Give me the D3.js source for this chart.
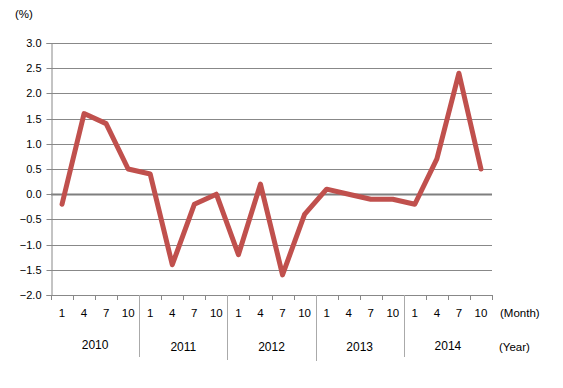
<!DOCTYPE html>
<html><head><meta charset="utf-8">
<script src="https://cdn.jsdelivr.net/npm/d3@7"></script>
<style>body{margin:0;background:#fff}svg{display:block}text{font-family:"Liberation Sans",Arial,sans-serif;font-size:11px;fill:#000}</style>
</head><body>
<script>
const years = ["2010","2011","2012","2013","2014"];
const months = ["1","4","7","10"];
const values = [-0.2,1.6,1.4,0.5, 0.4,-1.4,-0.2,0.0, -1.2,0.2,-1.6,-0.4, 0.1,0.0,-0.1,-0.1, -0.2,0.7,2.4,0.5];
const yTicks = [3.0,2.5,2.0,1.5,1.0,0.5,0.0,-0.5,-1.0,-1.5,-2.0];

const W=563,H=388, L=51, R=492, T=43, B=295;
const svg=d3.select("body").append("svg").attr("width",W).attr("height",H);
const cats = [];
years.forEach(y=>months.forEach(m=>cats.push(y+"-"+m)));
const x=d3.scaleBand().domain(cats).range([L,R]);
const y=d3.scaleLinear().domain([-2,3]).range([B,T]);

// gridlines
svg.append("g").selectAll("line").data(yTicks).join("line")
 .attr("x1",L).attr("x2",R).attr("y1",d=>Math.round(y(d))+0.5).attr("y2",d=>Math.round(y(d))+0.5)
 .attr("stroke",d=>d===0?"#7f7f7f":"#888").attr("stroke-width",d=>d===0?2:1);
// y axis
const ya=svg.append("g").attr("transform",`translate(${L+0.5},0)`)
 .call(d3.axisLeft(y).tickValues(yTicks).tickFormat(d3.format(".1f")).tickSize(5).tickPadding(5));
ya.select(".domain").attr("stroke","#888");
ya.selectAll(".tick line").attr("stroke","#888");
ya.selectAll("text").attr("font-size",11.5).attr("font-family","Liberation Sans, Arial, sans-serif").attr("fill","#000");
ya.selectAll(".tick").attr("transform",d=>`translate(0,${Math.round(y(d))+0.5})`);

// x axis line
svg.append("line").attr("x1",L).attr("x2",R).attr("y1",B+0.5).attr("y2",B+0.5).attr("stroke","#888");
// x ticks at band boundaries
const bounds=cats.map(c=>x(c)).concat([R]);
svg.append("g").selectAll("line").data(bounds).join("line")
 .attr("x1",d=>Math.round(d)+0.5).attr("x2",d=>Math.round(d)+0.5).attr("y1",B).attr("y2",B+5).attr("stroke","#888");
// month labels
svg.append("g").selectAll("text").data(cats).join("text")
 .attr("x",d=>x(d)+x.bandwidth()/2).attr("y",317).attr("text-anchor","middle").style("font-size","11.5px").text(d=>d.split("-")[1]);
// year separators
const yb=years.slice(1).map(yr=>x(yr+"-1"));
svg.append("g").selectAll("line").data(yb).join("line")
 .attr("x1",d=>Math.round(d)+0.5).attr("x2",d=>Math.round(d)+0.5).attr("y1",B).attr("y2",(d,i)=>[357,360,361,357][i]).attr("stroke","#aaa");
// year labels
svg.append("g").selectAll("text").data(years).join("text")
 .attr("x",d=>x(d+"-1")+2*x.bandwidth()).attr("y",(d,i)=>[349,351,351,351,350][i]).attr("text-anchor","middle").style("font-size","12px").text(d=>d);
svg.append("text").attr("x",500).attr("y",317).style("font-size","11.5px").text("(Month)");
svg.append("text").attr("x",499).attr("y",351).style("font-size","11.5px").text("(Year)");
svg.append("text").attr("x",15).attr("y",18).style("font-size","11.5px").text("(%)");

// line
svg.append("path").datum(values.map((v,i)=>[cats[i],v]))
 .attr("fill","none").attr("stroke","#c0504d").attr("stroke-width",5).attr("stroke-linejoin","round").attr("stroke-linecap","round")
 .attr("d",d3.line().x(d=>x(d[0])+x.bandwidth()/2).y(d=>y(d[1])));
</script>
</body></html>
